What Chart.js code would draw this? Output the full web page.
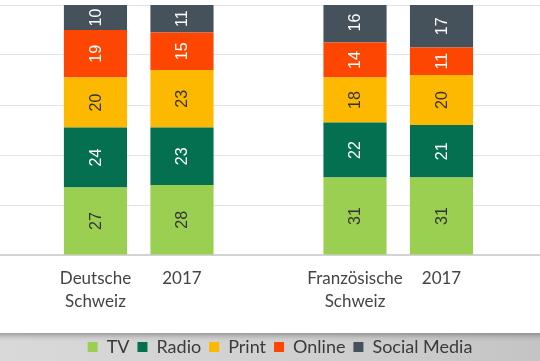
<!DOCTYPE html>
<html>
<head>
<meta charset="utf-8">
<script src="https://cdn.jsdelivr.net/npm/chart.js@4.4.1/dist/chart.umd.min.js"></script>
<style>
  html, body { margin: 0; padding: 0; }
  body {
    width: 540px; height: 361px; overflow: hidden; position: relative;
    background: linear-gradient(to right, #d9d9d9 0%, #cfcfcf 60%, #c4c4c4 100%);
  }
  #card {
    position: absolute; left: -20px; top: -20px; width: 580px; height: 353px;
    background: #ffffff; box-shadow: 0 2px 6px rgba(0,0,0,0.35);
  }
  #c { position: absolute; left: -40px; top: 0; }
</style>
</head>
<body>
<div id="card"></div>
<canvas id="c" width="640" height="361"></canvas>
<script>
// categories, with an empty slot (3) between the two regions
const categories = [["Deutsche", "Schweiz"], "2017", ["Französische", "Schweiz"], "2017"];
const slots = [1, 2, 4, 5];
const seriesNames = ["TV", "Radio", "Print", "Online", "Social Media"];
const tv     = [27, 28, 31, 31];
const radio  = [24, 23, 22, 21];
const print  = [20, 23, 18, 20];
const online = [19, 15, 14, 11];
const social = [10, 11, 16, 17];
const yTicks = [0, 20, 40, 60, 80, 100];

const colors = ["#9bcf52", "#05704f", "#fdb900", "#fd4602", "#46525b"];
const labelColors = ["#333333", "#ffffff", "#333333", "#ffffff", "#ffffff"];
const values = [tv, radio, print, online, social];

const valueLabels = {
  id: 'valueLabels',
  afterDatasetsDraw(chart) {
    const ctx = chart.ctx;
    chart.data.datasets.forEach((ds, i) => {
      const meta = chart.getDatasetMeta(i);
      meta.data.forEach((el, j) => {
        const v = ds.data[j].y;
        const cy = (el.y + el.base) / 2;
        ctx.save();
        ctx.translate(el.x, cy);
        ctx.rotate(-Math.PI / 2);
        ctx.fillStyle = labelColors[i];
        ctx.font = '16px "Liberation Sans", Arial, sans-serif';
        ctx.textAlign = 'center';
        ctx.textBaseline = 'middle';
        ctx.fillText(String(v), 0, 1);
        ctx.restore();
      });
    });
  }
};

new Chart(document.getElementById('c'), {
  type: 'bar',
  data: {
    datasets: values.map((d, i) => ({
      label: seriesNames[i],
      data: d.map((v, j) => ({ x: slots[j], y: v })),
      backgroundColor: colors[i],
      borderWidth: 0,
      categoryPercentage: 1,
      barPercentage: 0.73
    }))
  },
  options: {
    responsive: false,
    animation: false,
    devicePixelRatio: 1,
    layout: { padding: { top: 5, right: 0, left: 0, bottom: -5 } },
    plugins: {
      tooltip: { enabled: false },
      legend: {
        position: 'bottom',
        labels: {
          boxWidth: 10, boxHeight: 10, padding: 8,
          color: '#3a3a3a',
          font: { family: 'Lato', size: 18 }
        }
      }
    },
    scales: {
      x: {
        type: 'linear',
        stacked: true,
        offset: false,
        min: -0.566,
        max: 6.832,
        afterBuildTicks(scale) { scale.ticks = slots.map(v => ({ value: v })); },
        grid: { display: false, drawTicks: false, offset: false },
        border: { display: true, color: '#d3d3d3', width: 2 },
        ticks: {
          padding: 12, maxRotation: 0, autoSkip: false,
          color: '#444444',
          font: { family: 'Lato', size: 17, lineHeight: 1.35 },
          callback: (v) => categories[slots.indexOf(v)]
        },
        afterFit(scale) { scale.height = 75; }
      },
      y: {
        stacked: true,
        min: yTicks[0], max: yTicks[yTicks.length - 1],
        afterBuildTicks(scale) { scale.ticks = yTicks.map(v => ({ value: v })); },
        grid: { color: '#e3e3e3', drawTicks: false },
        border: { display: false },
        ticks: { display: false }
      }
    }
  },
  plugins: [valueLabels]
});
</script>
</body>
</html>
